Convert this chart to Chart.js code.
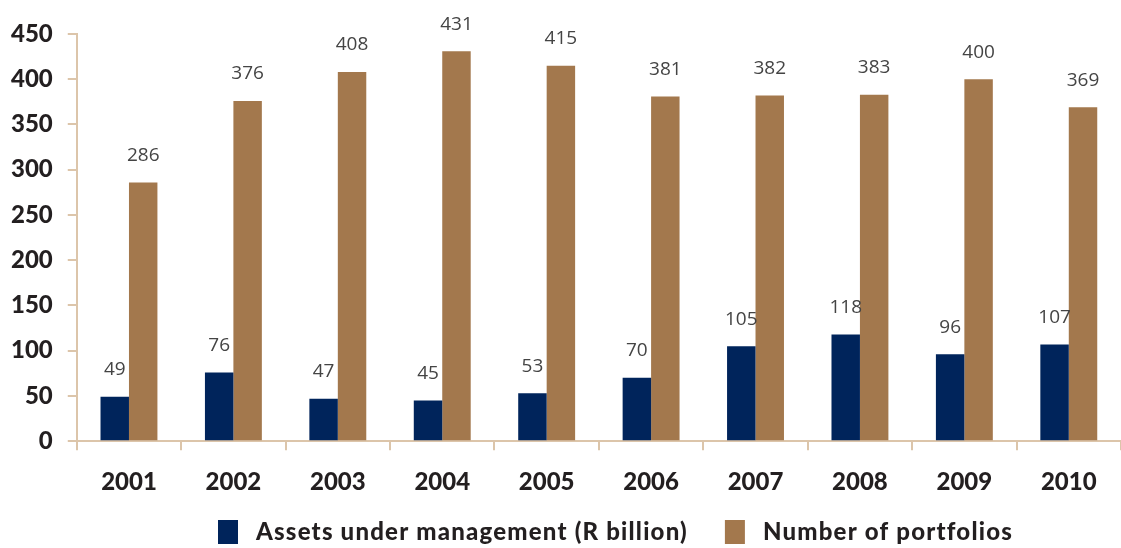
<!DOCTYPE html>
<html>
<head>
<meta charset="utf-8">
<script src="https://cdn.jsdelivr.net/npm/chart.js@4"></script>
<style>
  html, body { margin: 0; padding: 0; background: #fff; }
  #wrap { width: 1121px; height: 548px; }
</style>
</head>
<body>
<div id="wrap"><canvas id="aumChart" width="1121" height="548"></canvas></div>
<script>
const years = ['2001', '2002', '2003', '2004', '2005', '2006', '2007', '2008', '2009', '2010'];
const assets = [49, 76, 47, 45, 53, 70, 105, 118, 96, 107];
const portfolios = [286, 376, 408, 431, 415, 381, 382, 383, 400, 369];
const yTicks = [0, 50, 100, 150, 200, 250, 300, 350, 400, 450];

const navy = '#00245b';
const brown = '#a3784d';
const axisColour = '#dcc5aa';
const inkColour = '#231f20';
const boldFont = { family: 'Lato', size: 24, weight: 900 };

// prints each bar's value a little above its top
const valueLabels = {
    id: 'valueLabels',
    afterDatasetsDraw(chart) {
        const ctx = chart.ctx;
        ctx.save();
        ctx.font = '19px "Open Sans"';
        ctx.fillStyle = '#444444';
        ctx.textAlign = 'center';
        ctx.textBaseline = 'middle';
        chart.data.datasets.forEach((ds, i) => {
            chart.getDatasetMeta(i).data.forEach((bar, j) => {
                ctx.fillText(ds.data[j], bar.x, bar.y - 27);
            });
        });
        ctx.restore();
    }
};

// legend row along the bottom, built from the dataset labels/colours
const bottomLegend = {
    id: 'bottomLegend',
    afterDraw(chart) {
        const ctx = chart.ctx;
        const sets = chart.data.datasets;
        const boxW = 20, boxH = 24, textGap = 18, itemGap = 37;
        ctx.save();
        ctx.font = boldFont.weight + ' ' + boldFont.size + 'px ' + boldFont.family;
        ctx.letterSpacing = '1.2px';
        ctx.textBaseline = 'middle';
        ctx.textAlign = 'left';
        let x = 218;
        const y = chart.height - 16;
        sets.forEach(ds => {
            ctx.fillStyle = ds.backgroundColor;
            ctx.fillRect(x, y - boxH / 2, boxW, boxH);
            x += boxW + textGap;
            ctx.fillStyle = inkColour;
            ctx.fillText(ds.label, x, y);
            x += ctx.measureText(ds.label).width + itemGap;
        });
        ctx.restore();
    }
};

const ctx = document.getElementById('aumChart').getContext('2d');
const graph = new Chart(ctx, {
    type: 'bar',
    data: {
        labels: years,
        datasets: [{
            label: 'Assets under management (R billion)',
            data: assets,
            backgroundColor: navy,
            borderWidth: 0
        }, {
            label: 'Number of portfolios',
            data: portfolios,
            backgroundColor: brown,
            borderWidth: 0
        }]
    },
    options: {
        responsive: false,
        animation: false,
        layout: {
            padding: { top: 34, left: 0, right: 0, bottom: 33 }
        },
        datasets: {
            bar: { barPercentage: 1, categoryPercentage: 0.545 }
        },
        plugins: {
            tooltip: { enabled: false },
            legend: { display: false }
        },
        scales: {
            x: {
                grid: {
                    display: true,
                    drawOnChartArea: false,
                    drawTicks: true,
                    tickLength: 9,
                    color: axisColour,
                    lineWidth: 2
                },
                border: { color: axisColour, width: 2 },
                ticks: {
                    font: boldFont,
                    color: inkColour,
                    padding: 18
                }
            },
            y: {
                min: 0,
                max: 450,
                afterBuildTicks(scale) {
                    scale.ticks = yTicks.map(v => ({ value: v }));
                },
                afterFit(scale) {
                    scale.width -= 4;
                },
                grid: {
                    display: true,
                    drawOnChartArea: false,
                    drawTicks: true,
                    tickLength: 9,
                    color: axisColour,
                    lineWidth: 2
                },
                border: { color: axisColour, width: 2 },
                ticks: {
                    font: boldFont,
                    color: inkColour,
                    padding: 15
                }
            }
        }
    },
    plugins: [valueLabels, bottomLegend]
});
</script>
</body>
</html>
